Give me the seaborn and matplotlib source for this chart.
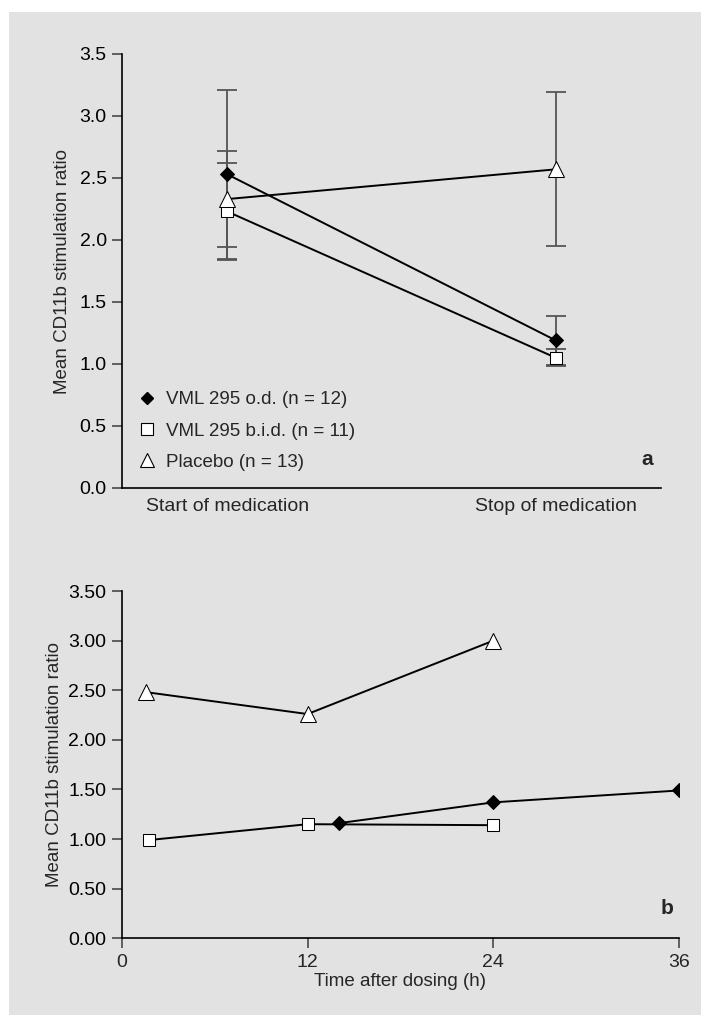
import matplotlib
matplotlib.use("Agg")
import matplotlib.pyplot as plt
from matplotlib.patches import Rectangle
from matplotlib.lines import Line2D
import numpy as np
import pandas as pd
import seaborn as sns

sns.set_theme(style="ticks")
plt.rcParams["font.family"] = ["Liberation Sans", "DejaVu Sans"]

# Panel a: mean CD11b stimulation ratio at start / stop of medication (mean ± SD)
phases = ["Start of medication", "Stop of medication"]
od_mean = [2.53, 1.19]
od_sd = [0.68, 0.20]
bid_mean = [2.23, 1.05]
bid_sd = [0.395, 0.07]
placebo_mean = [2.33, 2.57]
placebo_sd = [0.385, 0.62]

# Panel b: time course after dosing
placebo_t = [1.6, 12, 24]
placebo_y = [2.48, 2.26, 3.00]
bid_t = [1.75, 12, 24]
bid_y = [0.99, 1.15, 1.14]
od_t = [14, 24, 36]
od_y = [1.16, 1.37, 1.49]

group_labels = ["VML 295 o.d. (n = 12)", "VML 295 b.i.d. (n = 11)", "Placebo (n = 13)"]

W, H = 710, 1027
fig = plt.figure(figsize=(W / 100, H / 100), dpi=100, facecolor="white")
fig.patches.append(Rectangle((9 / W, 1 - 1015 / H), (701 - 9) / W, (1015 - 12) / H,
                             transform=fig.transFigure, facecolor="#e2e2e2",
                             edgecolor="none", zorder=-10))

GRID_GRAY = "#555555"
FS = 13.5
TICK_FS = 14

styles = {
    "od": dict(marker="D", markersize=7.5, markerfacecolor="black", markeredgecolor="black"),
    "bid": dict(marker="s", markersize=9, markerfacecolor="white", markeredgecolor="black"),
    "placebo": dict(marker="^", markersize=11, markerfacecolor="white", markeredgecolor="black"),
}


def style_axes(ax):
    ax.set_facecolor("none")
    ax.set_zorder(1)
    sns.despine(ax=ax)
    for s in ("left", "bottom"):
        ax.spines[s].set_color("black")
        ax.spines[s].set_linewidth(1.2)
    ax.tick_params(axis="y", direction="out", length=7, width=1.3, color=GRID_GRAY,
                   labelsize=TICK_FS, pad=4, labelcolor="black")


# ---- panel a ----
axa = fig.add_axes([122 / W, 1 - 488 / H, (661 - 122) / W, (488 - 54) / H])
style_axes(axa)
xa = np.arange(len(phases))
series_a = [("od", od_mean, od_sd), ("bid", bid_mean, bid_sd), ("placebo", placebo_mean, placebo_sd)]
for key, m, sd in series_a:
    axa.errorbar(xa, m, yerr=sd, fmt="none", ecolor=GRID_GRAY, elinewidth=1.3,
                 capsize=7, capthick=1.3, zorder=2)
for key, m, sd in series_a:
    df = pd.DataFrame({"phase": xa, "ratio": m})
    sns.lineplot(data=df, x="phase", y="ratio", ax=axa, color="black", linewidth=1.4,
                 zorder=3, **styles[key])
axa.set_xlim(-0.32, 1.32)
axa.set_ylim(0, 3.5)
axa.set_yticks(np.arange(0, 3.51, 0.5))
axa.set_yticklabels([f"{v:.1f}" for v in np.arange(0, 3.51, 0.5)])
axa.set_xticks(xa)
axa.set_xticklabels(phases)
axa.tick_params(axis="x", length=0, labelsize=FS + 0.5, pad=7)
axa.set_xlabel("")
axa.set_ylabel("Mean CD11b stimulation ratio", fontsize=FS, labelpad=6)
axa.text(0.985, 0.065, "a", transform=axa.transAxes, fontsize=FS + 1.5,
         fontweight="bold", ha="right", va="center")

handles = [
    Line2D([], [], linestyle="none", marker="D", markersize=6.5, markerfacecolor="black", markeredgecolor="black"),
    Line2D([], [], linestyle="none", marker="s", markersize=8, markerfacecolor="white", markeredgecolor="black", markeredgewidth=0.8),
    Line2D([], [], linestyle="none", marker="^", markersize=10, markerfacecolor="white", markeredgecolor="black", markeredgewidth=0.8),
]
axa.legend(handles, group_labels, loc="lower left", bbox_to_anchor=(0.005, 0.005),
           frameon=False, fontsize=FS, handlelength=0.8, handletextpad=0.6,
           labelspacing=0.75, borderaxespad=0.4)

# ---- panel b ----
axb = fig.add_axes([121.7 / W, 1 - 938.3 / H, (679.3 - 121.7) / W, (938.3 - 591) / H])
style_axes(axb)
series_b = [("placebo", placebo_t, placebo_y), ("bid", bid_t, bid_y), ("od", od_t, od_y)]
for key, t, y in series_b:
    df = pd.DataFrame({"hours": t, "ratio": y})
    sns.lineplot(data=df, x="hours", y="ratio", ax=axb, color="black", linewidth=1.4,
                 zorder=3, **styles[key])
axb.set_xlim(0, 36)
axb.set_ylim(0, 3.5)
axb.set_yticks(np.arange(0, 3.51, 0.5))
axb.set_yticklabels([f"{v:.2f}" for v in np.arange(0, 3.51, 0.5)])
axb.set_xticks([0, 12, 24, 36])
axb.tick_params(axis="x", direction="out", length=7, width=1.3, color=GRID_GRAY,
                labelsize=TICK_FS, pad=4)
axb.set_xlabel("Time after dosing (h)", fontsize=FS, labelpad=2)
axb.set_ylabel("Mean CD11b stimulation ratio", fontsize=FS, labelpad=4)
axb.text(0.99, 0.085, "b", transform=axb.transAxes, fontsize=FS + 1.5,
         fontweight="bold", ha="right", va="center")

fig.savefig("out.png", dpi=100, facecolor="white")
